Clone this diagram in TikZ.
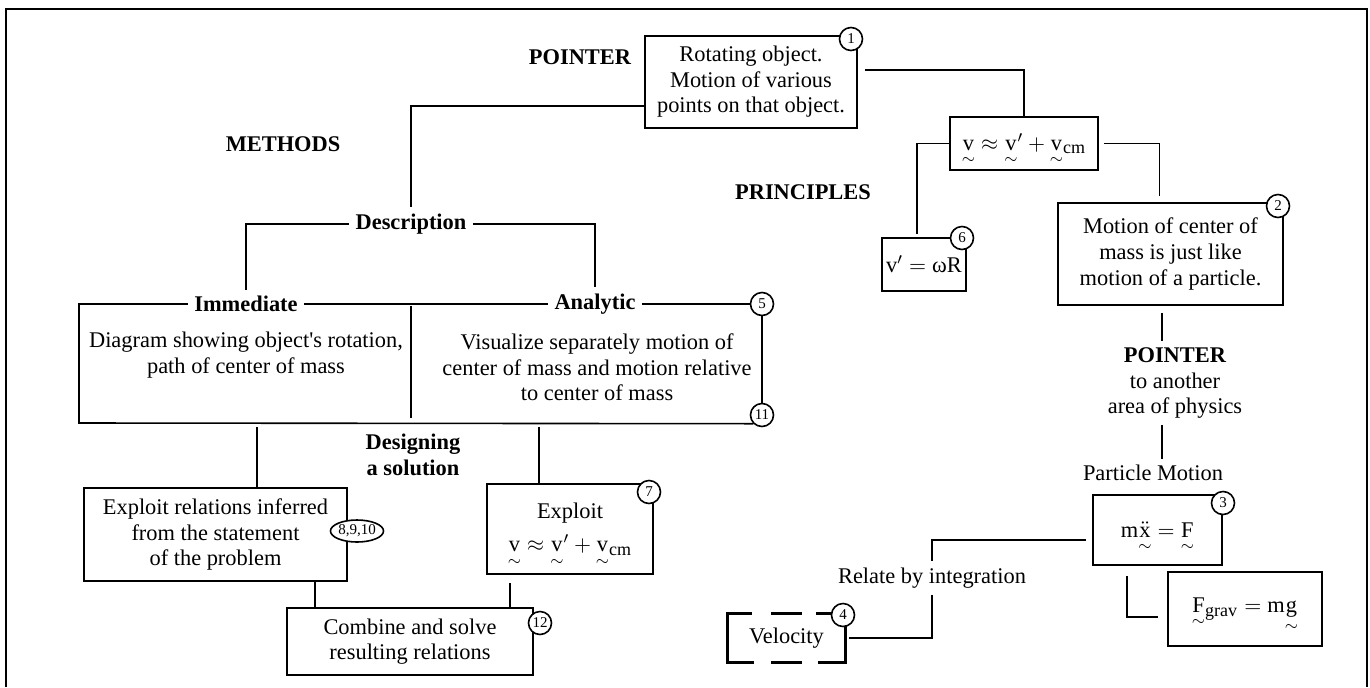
\documentclass[tikz,border=0pt]{standalone}
\usepackage{amsmath}
\usepackage{fontspec}
\setmainfont{Liberation Serif}
\usetikzlibrary{shapes.geometric}
\newcommand{\tld}[1]{\smash[b]{\underset{\sim}{\text{#1}}}}
\newcommand{\tldx}{\smash[b]{\underset{\sim}{\ddot{\text{x}}}}}
\newcommand{\sbt}[1]{_{\mbox{\small #1}}}
\begin{document}
\begin{tikzpicture}[x=0.5pt, y=-0.5pt, font=\fontsize{11.2}{12.8}\selectfont,
  box/.style={draw, line width=0.8pt, align=center, inner sep=0pt},
  lbl/.style={font=\fontsize{11.2}{12.8}\selectfont\bfseries, align=center, inner sep=3pt},
  txt/.style={align=center, inner sep=3pt},
  num/.style={draw, circle, line width=0.8pt, fill=white, inner sep=0pt, minimum size=11.5pt, font=\fontsize{7.5}{8}\selectfont},
  link/.style={line width=0.8pt},
  dashpart/.style={line width=1.5pt}]
\useasboundingbox (0,0) rectangle (1370,687);
\draw[link] (6,687) |- (1367,9) -- (1367,687);
% labels
\node[lbl] (ptrtop) at (580,57) {POINTER};
\node[lbl] (methods) at (283,144) {METHODS};
\node[lbl] (princ) at (803,192) {PRINCIPLES};
\node[lbl] (descr) at (411,224) {Description};
\node[lbl] (immed) at (246,304) {Immediate};
\node[lbl] (analyt) at (595,304) {Analytic};
\node[lbl] (design) at (413,455) {Designing\\a solution};
\node[txt] (ptrside) at (1175,383) {\textbf{POINTER}\\to another\\area of physics};
\node[txt] (pmotion) at (1153,473) {Particle Motion};
\node[txt] (relate) at (932,578) {Relate by integration};
\node[txt] (immtext) at (246,355) {Diagram showing object\textquotesingle s rotation,\\path of center of mass};
\node[txt] (anatext) at (597,367.5) {Visualize separately motion of\\center of mass and motion relative\\to center of mass};
% boxes
\node[box, minimum width=106pt, minimum height=46pt] (rot) at (751,82) {Rotating object.\\Motion of various\\points on that object.};
\node[box, minimum width=74pt, minimum height=26.5pt] (vrel) at (1024,143.5) {$\tld{v}\approx\tld{v}'+\tld{v}\sbt{cm}$};
\node[box, minimum width=112.5pt, minimum height=51pt] (cmass) at (1170.5,254) {Motion of center of\\mass is just like\\motion of a particle.};
\node[box, minimum width=42pt, minimum height=26.5pt] (omega) at (924,264.5) {$\text{v}'=\text{ωR}$};
\node[box, minimum width=131.5pt, minimum height=46.5pt] (infer) at (215.5,534.5) {Exploit relations inferred\\from the statement\\of the problem};
\node[box, minimum width=83pt, minimum height=45pt] (exploit) at (570,529) {Exploit\\[4pt]$\tld{v}\approx\tld{v}'+\tld{v}\sbt{cm}$};
\node[box, minimum width=123pt, minimum height=33.5pt] (combine) at (410,641.5) {Combine and solve\\resulting relations};
\node[box, minimum width=64.5pt, minimum height=35pt] (newton) at (1157.5,530) {$\text{m}\tldx=\tld{F}$};
\node[box, minimum width=77pt, minimum height=37pt] (grav) at (1245,609) {$\tld{F}\sbt{grav}=\text{m}\tld{g}$};
\node[box, draw=none, minimum width=58.5pt, minimum height=24pt] (veloc) at (786.5,638) {Velocity};
% dashed outline of Velocity
\draw[dashpart] ([xshift=12.5pt]veloc.north west) -| (veloc.south west) -- ++(13.5pt,0);
\draw[dashpart] ([xshift=-15pt]veloc.north east) -| (veloc.south east) -- ++(-14pt,0);
\draw[dashpart] ([xshift=22pt]veloc.north west) -- ++(15.5pt,0);
\draw[dashpart] ([xshift=22pt]veloc.south west) -- ++(15.5pt,0);
% numbers
\node[num] (n1) at (851,39) {1};
\node[num] (n2) at (1278,206) {2};
\node[num] (n3) at (1223,503) {3};
\node[num] (n4) at (843,615) {4};
\node[num] (n5) at (762,304) {5};
\node[num] (n6) at (962,238) {6};
\node[num] (n7) at (649,492) {7};
\node[num, ellipse, minimum width=25pt, minimum height=11pt] (n8) at (357,531) {8,9,10};
\node[num] (n11) at (762,415) {11};
\node[num] (n12) at (540,623) {12};
% methods frame
\coordinate (boxsw) at (79,423);
\coordinate (divtop) at (411,306);
\coordinate (divbot) at (411,418);
\draw[link] (immed.west) -| (boxsw) -- (n11.south west);
\draw[link] (immed.east) -- (analyt.west);
\draw[link] (analyt.east) -- (n5.west);
\draw[link] (n5.south) -- (n11.north);
\draw[link] (divtop) -- (divbot);
% connectors
\coordinate (dropl) at (257,427);
\coordinate (dropr) at (539,427);
\coordinate (colr) at (1162,0);
\coordinate (joinl) at ([xshift=14.5pt]combine.north west);
\coordinate (joinr) at ([xshift=-12pt]combine.north east);
\coordinate (gravin) at ([xshift=-4.5pt,yshift=-4pt]grav.west);
\draw[link] ([yshift=-12pt]rot.west) -| (descr.north);
\draw[link] (descr.west) -| (immed.north);
\draw[link] (descr.east) -| (analyt.north);
\draw[link] ([xshift=3.5pt,yshift=-17.5pt]rot.north east) -| (vrel.north);
\draw[link] ([xshift=2.5pt]vrel.east) -| ([xshift=-5.5pt,yshift=3pt]cmass.north);
\draw[link] (vrel.west) -| ([xshift=-3.5pt,yshift=1.5pt]omega.north);
\draw[link, shorten <=3.5pt] (cmass.south -| colr) -- (ptrside.north -| colr);
\draw[link] (ptrside.south -| colr) -- (pmotion.north -| colr);
\draw[link] (dropl) -- (dropl |- infer.north);
\draw[link] (dropr) -- (dropr |- exploit.north);
\draw[link] (joinl) -- (joinl |- infer.south);
\draw[link, shorten >=4pt] (joinr) -- (joinr |- exploit.south);
\draw[link] ([xshift=-3pt,yshift=-5pt]newton.west) -| (relate.north);
\draw[link] (relate.south) |- ([xshift=1.5pt]veloc.east);
\draw[link, shorten <=5pt] ([xshift=17.5pt]newton.south west) |- (gravin);
\end{tikzpicture}
\end{document}
